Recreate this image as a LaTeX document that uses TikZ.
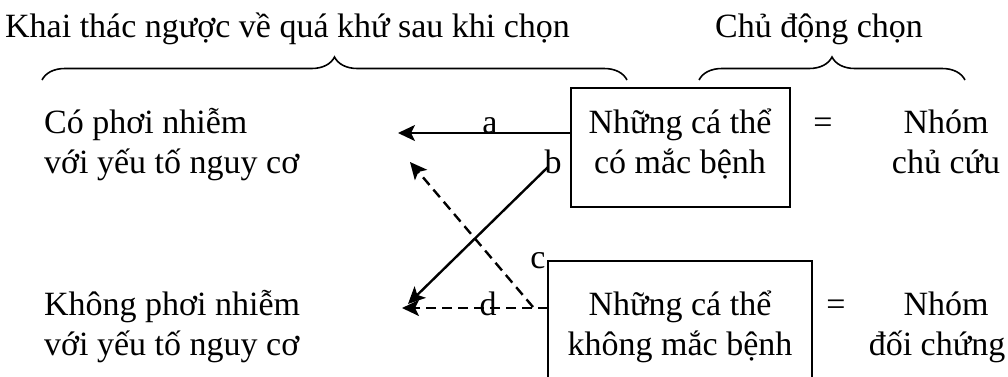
\documentclass[tikz,border=0pt]{standalone}
\usepackage{fontspec}
\setmainfont{Liberation Serif}
\usetikzlibrary{arrows.meta,decorations.pathreplacing}
\begin{document}
\begin{tikzpicture}[x=1pt,y=-1pt,
  txt/.style={font=\fontsize{34}{40}\selectfont, inner sep=0pt, anchor=base},
  txtl/.style={txt, anchor=base west},
  boxst/.style={line width=1.6pt},
  arr/.style={line width=2.4pt, -{Stealth[length=17pt,width=16pt,inset=4pt]}},
  darr/.style={arr, dash pattern=on 10pt off 6pt},
  brc/.style={line width=1.6pt, decorate, decoration={brace, amplitude=23pt}}]
\clip (0,0) rectangle (1008,376);
% headers
\node[txtl] (h1) at (5,37) {Khai thác ngược về quá khứ sau khi chọn};
\node[txtl] (h2) at (715,37) {Chủ động chọn};
% braces
\coordinate (b1l) at (42,80); \coordinate (b1r) at (627,80);
\coordinate (b2l) at (699,80); \coordinate (b2r) at (965,80);
\draw[brc] (b1l) -- (b1r);
\draw[brc] (b2l) -- (b2r);
% left texts
\node[txtl] (l1) at (44,133) {Có phơi nhiễm};
\node[txtl] (l2) at (44,173) {với yếu tố nguy cơ};
\node[txtl] (l3) at (44,315) {Không phơi nhiễm};
\node[txtl] (l4) at (44,355) {với yếu tố nguy cơ};
% boxes
\draw[boxst] (571,88) rectangle (790,207);
\draw[boxst] (548,261) rectangle (812,400);
\node[txt] (t1) at (680,133) {Những cá thể};
\node[txt] (t2) at (680,173) {có mắc bệnh};
\node[txt] (t3) at (680,315) {Những cá thể};
\node[txt] (t4) at (680,355) {không mắc bệnh};
% equals and groups
\node[txt] (e1) at (823,133) {=};
\node[txt] (e2) at (836,315) {=};
\node[txt] (g1) at (946,133) {Nhóm};
\node[txt] (g2) at (946,173) {chủ cứu};
\node[txt] (g3) at (946,315) {Nhóm};
\node[txt] (g4) at (937,355) {đối chứng};
% arrow endpoints
\coordinate (aS) at (571,133); \coordinate (aE) at (398,133);
\coordinate (bS) at (548,167); \coordinate (bE) at (408,304);
\coordinate (cS) at (533,307); \coordinate (cE) at (410,162);
\coordinate (dS) at (548,308); \coordinate (dE) at (402,308);
\draw[arr] (aS) -- (aE);
\draw[arr] (bS) -- (bE);
\draw[darr] (cS) -- (cE);
\draw[darr] (dS) -- (dE);
% labels
\node[txt] (la) at (490,133) {a};
\node[txt] (lb) at (553,173) {b};
\node[txt] (lc) at (538,268) {c};
\node[txt] (ld) at (488,315) {d};
\end{tikzpicture}
\end{document}
